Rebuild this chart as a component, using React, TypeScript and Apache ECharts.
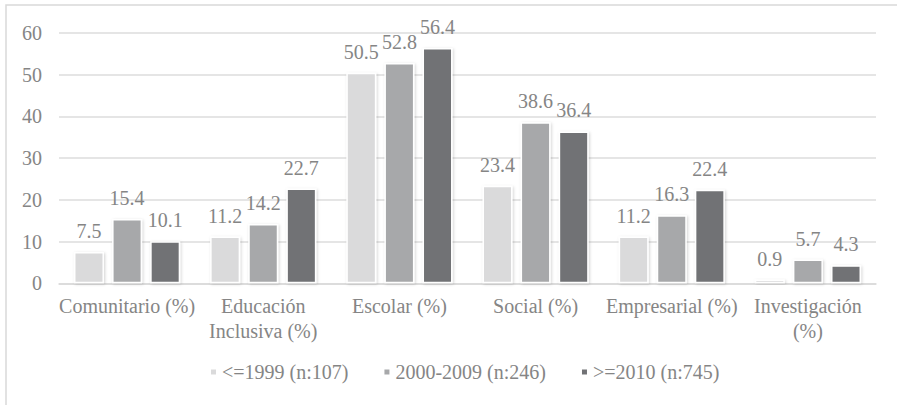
import React, { useEffect, useRef } from "react";
import * as echarts from "echarts";

// Category labels (with line breaks as they are shown under the axis)
const categories = [
  "Comunitario (%)",
  "Educación\nInclusiva (%)",
  "Escolar (%)",
  "Social (%)",
  "Empresarial (%)",
  "Investigación\n(%)",
];

const seriesNames = ["<=1999 (n:107)", "2000-2009 (n:246)", ">=2010 (n:745)"];

const valuesUpTo1999 = [7.5, 11.2, 50.5, 23.4, 11.2, 0.9];
const values2000to2009 = [15.4, 14.2, 52.8, 38.6, 16.3, 5.7];
const valuesFrom2010 = [10.1, 22.7, 56.4, 36.4, 22.4, 4.3];

const seriesColors = ["#dadadb", "#a7a8aa", "#717275"];

const FONT = "Liberation Serif, Times New Roman, serif";
const FONT_SIZE = 20;
const TEXT_COLOR = "#858585";

export default function App() {
  const ref = useRef<HTMLDivElement>(null);

  useEffect(() => {
    document.body.style.margin = "0";
    if (!ref.current) return;
    const chart = echarts.init(ref.current, undefined, { renderer: "svg" });

    const allValues = [valuesUpTo1999, values2000to2009, valuesFrom2010];
    const textBase = { fontFamily: FONT, fontSize: FONT_SIZE, color: TEXT_COLOR };

    chart.setOption({
      animation: false,
      backgroundColor: "#ffffff",
      textStyle: { ...textBase },
      graphic: [
        {
          type: "rect",
          shape: { x: 6, y: 5, width: 920, height: 430 },
          style: { fill: "none", stroke: "#d9d9d9", lineWidth: 1.5 },
          silent: true,
        },
      ],
      grid: { left: 59, right: 21, top: 33, bottom: 121.7 },
      legend: {
        data: seriesNames,
        bottom: 18,
        left: 204,
        itemWidth: 7,
        itemHeight: 7,
        itemGap: 34,
        icon: "rect",
        textStyle: { ...textBase },
      },
      xAxis: {
        type: "category",
        data: categories,
        axisLine: { lineStyle: { color: "#d9d9d9", width: 1.5 } },
        axisTick: { show: false },
        axisLabel: {
          ...textBase,
          margin: 10,
          lineHeight: 25,
          interval: 0,
        },
      },
      yAxis: {
        type: "value",
        min: 0,
        max: 60,
        interval: 10,
        axisLine: { show: false },
        axisTick: { show: false },
        splitLine: { lineStyle: { color: "#dcdcdc", width: 1.5 } },
        axisLabel: {
          ...textBase,
          margin: 17,
        },
      },
      series: seriesNames.map((name, i) => ({
        name,
        type: "bar",
        data: allValues[i],
        barWidth: 30,
        barGap: "27%",
        itemStyle: {
          color: seriesColors[i],
          borderColor: "#ffffff",
          borderWidth: 1.5,
          shadowColor: "rgba(0,0,0,0.18)",
          shadowBlur: 3,
          shadowOffsetX: 1,
          shadowOffsetY: 1,
        },
        label: {
          show: true,
          position: "top",
          distance: 11,
          ...textBase,
          formatter: (p: any) => Number(p.value).toFixed(1),
        },
      })),
    });

    return () => chart.dispose();
  }, []);

  return <div ref={ref} style={{ width: 897, height: 405 }} />;
}
